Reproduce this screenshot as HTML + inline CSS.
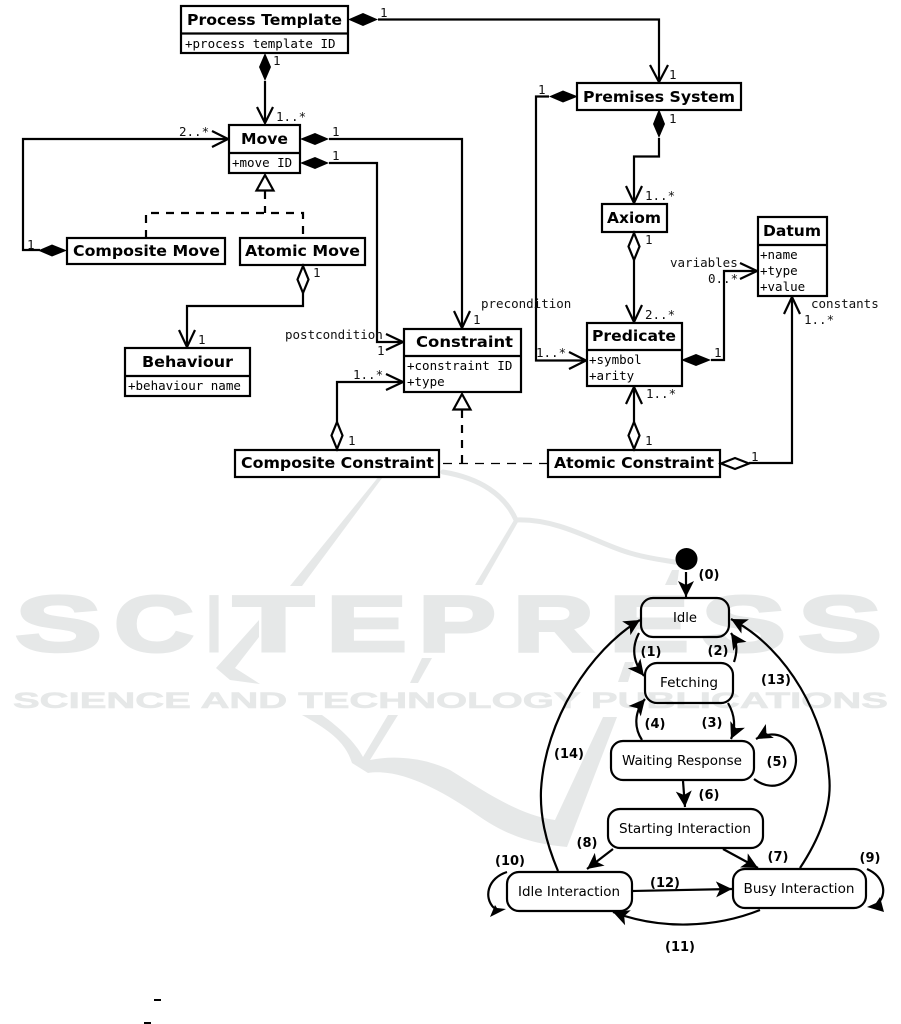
<!DOCTYPE html>
<html>
<head>
<meta charset="utf-8">
<style>
html,body{margin:0;padding:0;background:#fff}
svg{display:block}
.b{fill:#fff;stroke:#000;stroke-width:2.2}
.l{fill:none;stroke:#000;stroke-width:2.2}
.d{fill:none;stroke:#000;stroke-width:2.2;stroke-dasharray:8 7}
.fd{fill:#000;stroke:none}
.hd{fill:#fff;stroke:#000;stroke-width:2.2}
.t{font:bold 15px "DejaVu Sans",sans-serif;fill:#000}
.a{font:12.5px "DejaVu Sans Mono",monospace;fill:#000}
.m{font:12.5px "DejaVu Sans Mono",monospace;fill:#111}
.s{fill:none;stroke:#000;stroke-width:2.2}
.c{fill:none;stroke:#000;stroke-width:2.2}
.n{font:13px "DejaVu Sans",sans-serif;fill:#000;text-anchor:middle}
.k{font:bold 13px "DejaVu Sans",sans-serif;fill:#000;text-anchor:middle}
.w{font-family:"Liberation Sans",sans-serif;font-weight:bold;fill:#e6e8e8;stroke:#e6e8e8}
.wf{fill:#e6e8e8;stroke:none}
.wl{fill:none;stroke:#e6e8e8;stroke-linecap:round}
</style>
</head>
<body>
<svg width="901" height="1024" viewBox="0 0 901 1024" xmlns="http://www.w3.org/2000/svg">
<defs>
<marker id="ah" markerUnits="userSpaceOnUse" markerWidth="24" markerHeight="20" refX="17" refY="10" orient="auto">
<path d="M17,10 L1,2 L5,10 L1,18 Z" fill="#000"/>
</marker>
</defs>

<!-- watermark -->
<g>
<path class="wl" stroke-width="5" d="M443,472 C480,478 505,495 516,520 C560,518 600,545 630,553 C650,559 665,560 680,563"/>
<path class="wf" d="M384,470 L388,470 L302,586 L290,586 Z"/>
<path class="wf" d="M514,520 L518,522 L482,585 L475,585 Z"/>
<path class="wf" d="M259,620 L216,668 L230,680 L260,684 L235,668 L259,637 Z"/>
<path class="wf" d="M440,638 L445,638 L438,648 Z"/>
<path class="wf" d="M422,658 L432,658 L418,683 L410,683 Z"/>
<path class="wf" d="M672,570 L679,570 L677,585 L665,585 Z"/>
<path class="wf" d="M625,662 L634,662 L628,682 L618,682 Z"/>
<path class="wf" d="M302,715 L322,715 C340,728 355,742 363,757 L388,715 L398,715 L370,760 C395,755 425,758 450,770 C490,795 520,815 555,820 L603,717 L617,717 L567,847 C520,843 495,828 470,810 C440,790 400,768 368,773 L352,763 C345,740 325,728 302,715 Z"/>
<text class="w" y="651" font-size="79" stroke-width="3"><tspan x="15" textLength="87" lengthAdjust="spacingAndGlyphs">S</tspan><tspan x="114" textLength="80" lengthAdjust="spacingAndGlyphs">C</tspan><tspan x="207" textLength="14" lengthAdjust="spacingAndGlyphs">I</tspan><tspan x="233" textLength="81" lengthAdjust="spacingAndGlyphs">T</tspan><tspan x="326" textLength="81" lengthAdjust="spacingAndGlyphs">E</tspan><tspan x="418" textLength="78" lengthAdjust="spacingAndGlyphs">P</tspan><tspan x="513" textLength="81" lengthAdjust="spacingAndGlyphs">R</tspan><tspan x="609" textLength="80" lengthAdjust="spacingAndGlyphs">E</tspan><tspan x="701" textLength="85" lengthAdjust="spacingAndGlyphs">S</tspan><tspan x="798" textLength="84" lengthAdjust="spacingAndGlyphs">S</tspan></text>
<text class="w" x="13" y="708" font-size="22" stroke-width="0.6" textLength="875" lengthAdjust="spacingAndGlyphs">SCIENCE AND TECHNOLOGY PUBLICATIONS</text>
</g>

<!-- UML connectors -->
<g>
<path class="l" d="M378,19.5 H659 V82"/>
<path class="l" d="M650,65 L659,82 L668,65"/>
<path class="l" d="M265,81 V123"/>
<path class="l" d="M257,107 L265,123 L273,107"/>
<path class="l" d="M228,139 H23 V250 H40"/>
<path class="l" d="M212,131 L228,139 L212,147"/>
<path class="l" d="M329,139 H462 V328"/>
<path class="l" d="M454,311 L462,328 L470,311"/>
<path class="l" d="M329,163 H377 V342 H403"/>
<path class="l" d="M386,334 L403,342 L386,350"/>
<path class="d" d="M265,191 V213"/>
<path class="d" d="M146,238 V213 H303 V238"/>
<path class="l" d="M303,293 V306 H187 V347"/>
<path class="l" d="M179,330 L187,347 L195,330"/>
<path class="l" d="M549,96.5 H536 V360.5 H586"/>
<path class="l" d="M569,352 L586,360.5 L569,369"/>
<path class="l" d="M659,138 V156.5 H634 V203"/>
<path class="l" d="M626,186 L634,203 L642,186"/>
<path class="l" d="M634,260 V322"/>
<path class="l" d="M626,305 L634,322 L642,305"/>
<path class="l" d="M711,360 H724 V271 H757"/>
<path class="l" d="M740,263 L757,271 L740,279"/>
<path class="l" d="M634,422 V387"/>
<path class="l" d="M626,404 L634,387 L642,404"/>
<path class="l" d="M749,463 H792 V297"/>
<path class="l" d="M784,314 L792,297 L800,314"/>
<path class="l" d="M337,422 V382 H403"/>
<path class="l" d="M386,374 L403,382 L386,390"/>
<path class="d" d="M462,410 V463"/>
<path d="M443,463.5 H547" fill="none" stroke="#000" stroke-width="1.3" stroke-dasharray="9 7"/>
</g>

<!-- UML boxes -->
<g>
<rect class="b" x="181" y="6" width="167" height="47"/><path class="l" d="M181,33.5 H348"/>
<rect class="b" x="229" y="125" width="71" height="48"/><path class="l" d="M229,153 H300"/>
<rect class="b" x="67" y="238" width="158" height="26"/>
<rect class="b" x="240" y="238" width="125" height="27"/>
<rect class="b" x="577" y="83" width="164" height="27"/>
<rect class="b" x="602" y="204" width="65" height="28"/>
<rect class="b" x="758" y="217" width="69" height="79"/><path class="l" d="M758,245 H827"/>
<rect class="b" x="125" y="348" width="125" height="48"/><path class="l" d="M125,376 H250"/>
<rect class="b" x="404" y="329" width="117" height="63"/><path class="l" d="M404,356 H521"/>
<rect class="b" x="587" y="323" width="95" height="63"/><path class="l" d="M587,350 H682"/>
<rect class="b" x="235" y="450" width="204" height="27"/>
<rect class="b" x="548" y="450" width="172" height="27"/>
</g>

<!-- diamonds and triangles -->
<g>
<path class="fd" d="M348,19.5 L363,13 L378,19.5 L363,26 Z"/>
<path class="fd" d="M265,53 L271,67 L265,81 L259,67 Z"/>
<path class="fd" d="M300,139 L315,133 L329,139 L315,145 Z"/>
<path class="fd" d="M300,163 L315,157 L329,163 L315,169 Z"/>
<path class="fd" d="M38,250.5 L52,244.5 L67,250.5 L52,256.5 Z"/>
<path class="fd" d="M578,96.5 L563,90.5 L549,96.5 L563,102.5 Z"/>
<path class="fd" d="M659,109 L665,124 L659,138 L653,124 Z"/>
<path class="fd" d="M681,360 L696,354 L711,360 L696,366 Z"/>
<path class="hd" d="M303,266 L308.5,279.5 L303,293 L297.500,279.5 Z"/>
<path class="hd" d="M634,233 L639.5,246.500 L634,260 L628.5,246.500 Z"/>
<path class="hd" d="M634,422 L639.5,435.500 L634,449 L628.5,435.500 Z"/>
<path class="hd" d="M337,422 L342.5,435.500 L337,449 L331.5,435.500 Z"/>
<path class="hd" d="M721,463.500 L735,458 L749,463.500 L735,469 Z"/>
<path class="hd" d="M265,175 L273.500,190.500 L256.500,190.500 Z"/>
<path class="hd" d="M462,394 L470.500,409.500 L453.500,409.500 Z"/>
</g>

<!-- UML titles -->
<g class="t">
<text class="t" x="187" y="25" textLength="155" lengthAdjust="spacingAndGlyphs">Process Template</text>
<text class="t" x="241" y="144" textLength="47" lengthAdjust="spacingAndGlyphs">Move</text>
<text class="t" x="73" y="256" textLength="147" lengthAdjust="spacingAndGlyphs">Composite Move</text>
<text class="t" x="245" y="256" textLength="115" lengthAdjust="spacingAndGlyphs">Atomic Move</text>
<text class="t" x="583" y="102" textLength="152" lengthAdjust="spacingAndGlyphs">Premises System</text>
<text class="t" x="607" y="223" textLength="54" lengthAdjust="spacingAndGlyphs">Axiom</text>
<text class="t" x="763" y="236" textLength="58" lengthAdjust="spacingAndGlyphs">Datum</text>
<text class="t" x="142" y="367" textLength="91" lengthAdjust="spacingAndGlyphs">Behaviour</text>
<text class="t" x="416" y="347" textLength="97" lengthAdjust="spacingAndGlyphs">Constraint</text>
<text class="t" x="592" y="341" textLength="84" lengthAdjust="spacingAndGlyphs">Predicate</text>
<text class="t" x="241" y="468" textLength="193" lengthAdjust="spacingAndGlyphs">Composite Constraint</text>
<text class="t" x="554" y="468" textLength="160" lengthAdjust="spacingAndGlyphs">Atomic Constraint</text>
</g>

<!-- attributes -->
<text class="a" x="185" y="48">+process template ID</text>
<text class="a" x="232" y="167">+move ID</text>
<text class="a" x="128" y="390">+behaviour name</text>
<text class="a" x="407" y="370">+constraint ID</text>
<text class="a" x="407" y="386">+type</text>
<text class="a" x="589" y="364">+symbol</text>
<text class="a" x="589" y="380">+arity</text>
<text class="a" x="760" y="259">+name</text>
<text class="a" x="760" y="275">+type</text>
<text class="a" x="760" y="291">+value</text>

<!-- multiplicities -->
<g>
<text class="m" x="380" y="17">1</text>
<text class="m" x="273" y="65">1</text>
<text class="m" x="276" y="121">1..*</text>
<text class="m" x="179" y="136">2..*</text>
<text class="m" x="332" y="136">1</text>
<text class="m" x="332" y="160">1</text>
<text class="m" x="27" y="249">1</text>
<text class="m" x="669" y="79">1</text>
<text class="m" x="538" y="94">1</text>
<text class="m" x="669" y="123">1</text>
<text class="m" x="645" y="200">1..*</text>
<text class="m" x="645" y="244">1</text>
<text class="m" x="313" y="277">1</text>
<text class="m" x="481" y="308">precondition</text>
<text class="m" x="473" y="324">1</text>
<text class="m" x="285" y="339">postcondition</text>
<text class="m" x="377" y="355">1</text>
<text class="m" x="198" y="344">1</text>
<text class="m" x="353" y="379">1..*</text>
<text class="m" x="348" y="445">1</text>
<text class="m" x="670" y="267">variables</text>
<text class="m" x="708" y="283">0..*</text>
<text class="m" x="811" y="308">constants</text>
<text class="m" x="804" y="324">1..*</text>
<text class="m" x="645" y="319">2..*</text>
<text class="m" x="536" y="357">1..*</text>
<text class="m" x="714" y="357">1</text>
<text class="m" x="646" y="398">1..*</text>
<text class="m" x="645" y="445">1</text>
<text class="m" x="751" y="461">1</text>
</g>

<!-- state machine -->
<g>
<circle cx="686.500" cy="559" r="11" fill="#000"/>
<rect class="s" x="641" y="598" width="88" height="39" rx="12"/>
<rect class="s" x="645" y="663" width="88" height="40" rx="12"/>
<rect class="s" x="611" y="741" width="143" height="39" rx="12"/>
<rect class="s" x="608" y="809" width="155" height="39" rx="12"/>
<rect class="s" x="733" y="869" width="133" height="39" rx="12"/>
<rect class="s" x="507" y="872" width="125" height="39" rx="12"/>

<path class="c" marker-end="url(#ah)" d="M686,572 V597"/>
<path class="c" marker-end="url(#ah)" d="M639,633 C631,648 633,662 644,676"/>
<path class="c" marker-end="url(#ah)" d="M734,662 C738,650 737,642 731,633"/>
<path class="c" marker-end="url(#ah)" d="M728,703 C735,715 736,728 731,739"/>
<path class="c" marker-end="url(#ah)" d="M642,740 C634,728 634,712 645,699"/>
<path class="c" marker-end="url(#ah)" d="M754,779 C775,795 796,780 796,760 C796,738 775,728 756,739"/>
<path class="c" marker-end="url(#ah)" d="M683,781 L685,807"/>
<path class="c" marker-end="url(#ah)" d="M723,849 L758,868"/>
<path class="c" marker-end="url(#ah)" d="M613,849 L587,869"/>
<path class="c" marker-end="url(#ah)" d="M632,891 L732,889"/>
<path class="c" marker-end="url(#ah)" d="M760,910 C715,928 660,930 613,912"/>
<path class="c" d="M867,869 C885,877 887,895 878,903"/>
<path class="fd" d="M867,907 L884,912 L880,897 L876,903 Z"/>
<path class="c" d="M507,872 C488,878 483,897 494,908"/>
<path class="fd" d="M506,909 L490,917 L495,905 L497,908 Z"/>
<path class="c" marker-end="url(#ah)" d="M800,868 C825,830 832,800 829,775 C825,720 790,650 731,619"/>
<path class="c" marker-end="url(#ah)" d="M558,871 C545,840 540,815 541,790 C545,720 590,650 640,620"/>
</g>

<!-- state names -->
<text class="n" x="685" y="622" textLength="24" lengthAdjust="spacingAndGlyphs">Idle</text>
<text class="n" x="689" y="687" textLength="58" lengthAdjust="spacingAndGlyphs">Fetching</text>
<text class="n" x="682" y="765" textLength="120" lengthAdjust="spacingAndGlyphs">Waiting Response</text>
<text class="n" x="685" y="833" textLength="132" lengthAdjust="spacingAndGlyphs">Starting Interaction</text>
<text class="n" x="569" y="896" textLength="102" lengthAdjust="spacingAndGlyphs">Idle Interaction</text>
<text class="n" x="799" y="893" textLength="111" lengthAdjust="spacingAndGlyphs">Busy Interaction</text>

<!-- transition labels -->
<text class="k" x="709" y="579">(0)</text>
<text class="k" x="651" y="656">(1)</text>
<text class="k" x="718" y="655">(2)</text>
<text class="k" x="712" y="727">(3)</text>
<text class="k" x="655" y="728">(4)</text>
<text class="k" x="777" y="766">(5)</text>
<text class="k" x="709" y="799">(6)</text>
<text class="k" x="778" y="861">(7)</text>
<text class="k" x="587" y="847">(8)</text>
<text class="k" x="870" y="862">(9)</text>
<text class="k" x="510" y="865">(10)</text>
<text class="k" x="680" y="951">(11)</text>
<text class="k" x="665" y="887">(12)</text>
<text class="k" x="776" y="684">(13)</text>
<text class="k" x="569" y="758">(14)</text>

<rect x="154" y="999" width="7" height="2" fill="#000"/>
<rect x="144" y="1022" width="7" height="2" fill="#000"/>
</svg>
</body>
</html>
